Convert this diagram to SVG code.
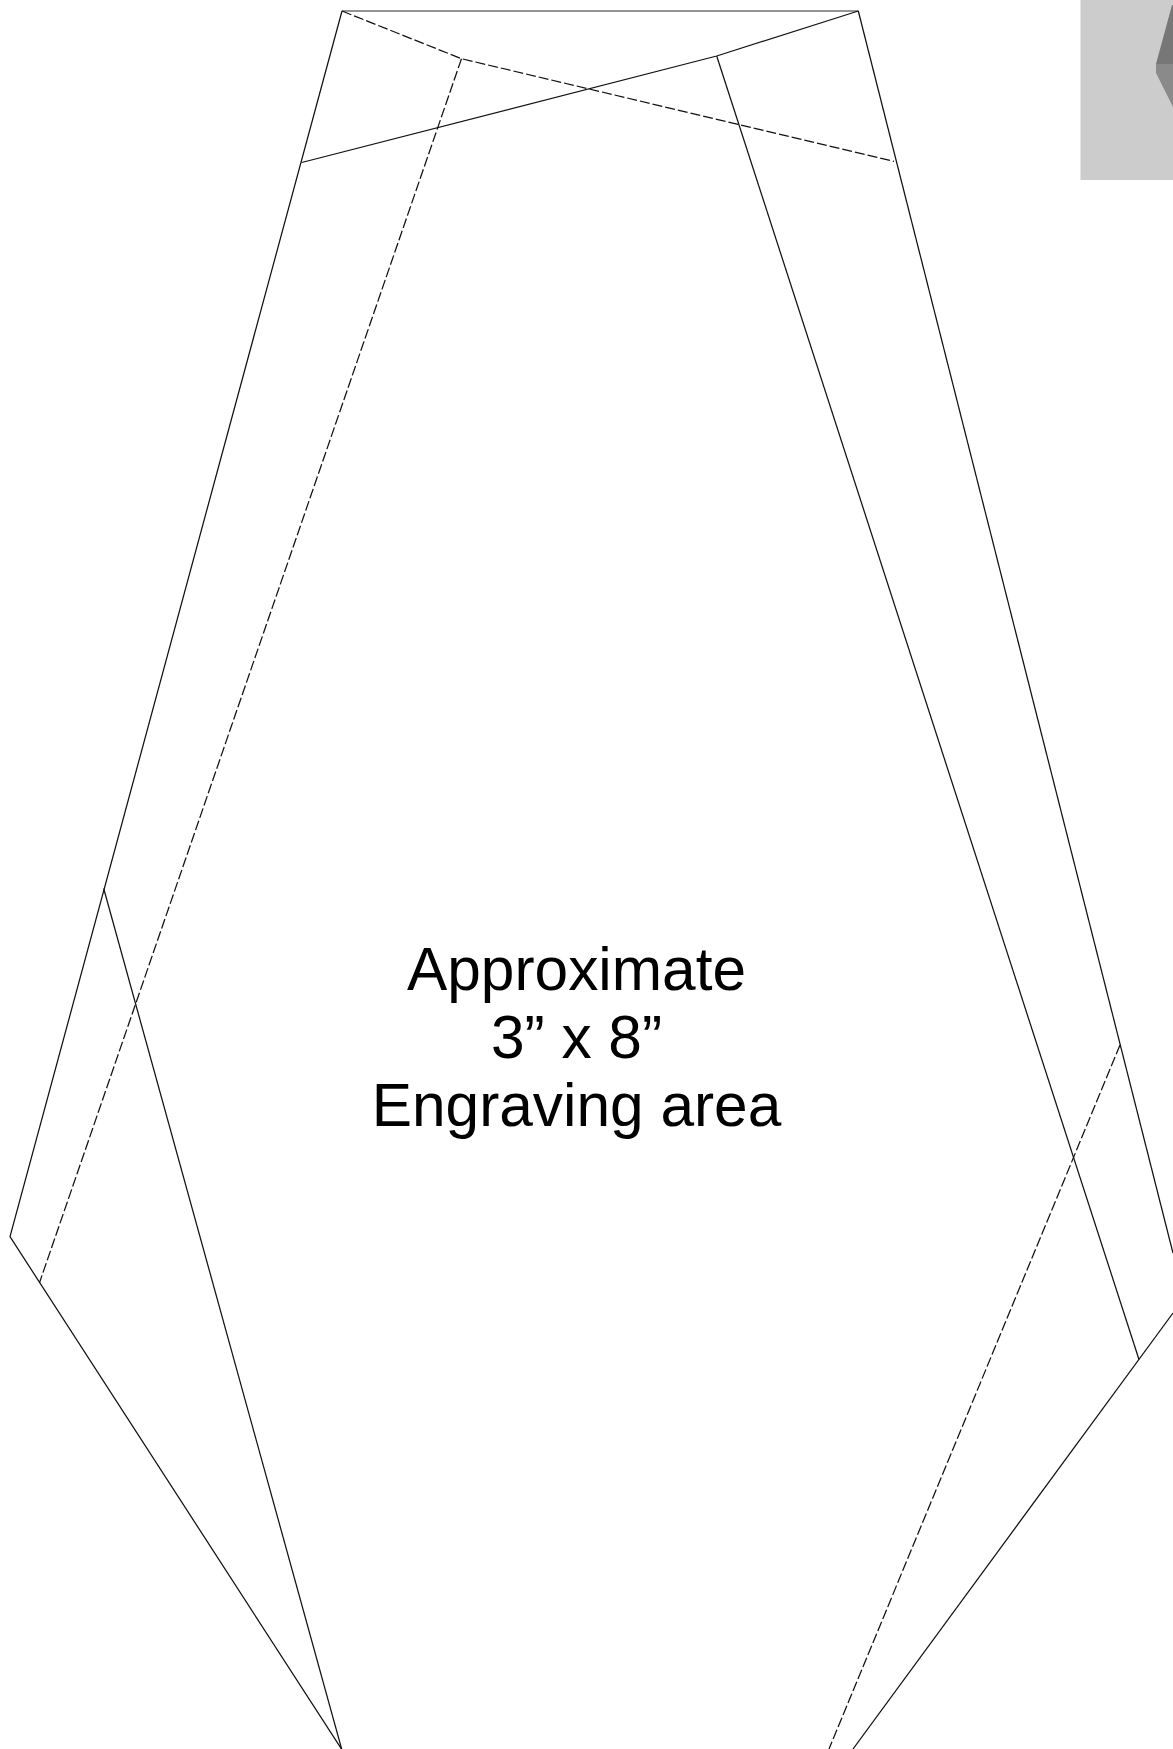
<svg xmlns="http://www.w3.org/2000/svg" width="1173" height="1749" viewBox="0 0 1173 1749">
<style>
.s{fill:none;stroke:#111;stroke-width:1.25}
.d{fill:none;stroke:#111;stroke-width:1.25;stroke-dasharray:10 3}
.t{font-family:"Liberation Sans",Arial,sans-serif;font-size:60.4px;fill:#000;text-anchor:middle}
</style>
<rect width="1173" height="1749" fill="#fff"/>
<g id="thumbnail">
<rect x="1080.5" y="0" width="92.5" height="180" fill="#ccc"/>
<polygon points="1172,5 1173,5 1173,64 1156,64" fill="#777"/>
<polygon points="1156,64 1173,64 1173,107 1156,73" fill="#8a8a8a"/>
</g>
<g id="outline">
<path class="s" d="M342 11L858.3 11" stroke-opacity=".6" style="stroke-width:1.4"/>
<path class="s" d="M342 11L10 1236.7L341.8 1749.5"/>
<path class="s" d="M858.3 11L1173 1253"/>
<path class="s" d="M1173 1313L853 1749"/>
</g>
<g id="folds">
<path class="s" d="M301.7 162.5L716.7 56L858.3 11"/>
<path class="s" d="M716.7 56L1139 1359.5"/>
<path class="s" d="M103.7 888.5L341.8 1749.5"/>
</g>
<g id="dashes">
<path class="d" d="M342 11L461.5 58.7L894 161.3"/>
<path class="d" d="M461.5 58.7L39.5 1282.7"/>
<path class="d" d="M1120 1045L829 1749"/>
</g>
<g id="label">
<text class="t" x="576.5" y="990">Approximate</text>
<text class="t" x="576.5" y="1058">3” x 8”</text>
<text class="t" x="576.5" y="1126">Engraving area</text>
</g>
</svg>
